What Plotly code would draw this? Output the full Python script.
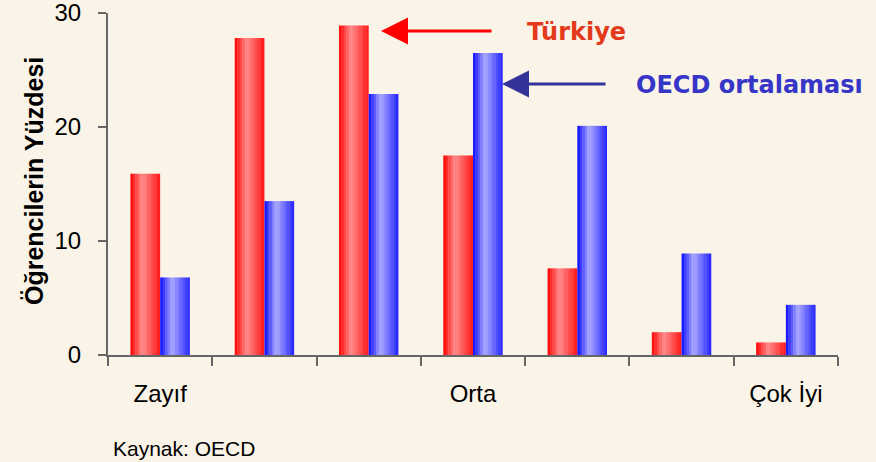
import plotly.graph_objects as go

# ---- data ----
groups = [0, 1, 2, 3, 4, 5, 6]
turkiye = [15.9, 27.8, 28.9, 17.5, 7.6, 2.0, 1.1]
oecd = [6.8, 13.5, 22.9, 26.5, 20.1, 8.9, 4.4]
label_positions = [0, 3, 6]
label_texts = ["Zayıf", "Orta", "Çok İyi"]
y_ticks = [0, 10, 20, 30]

BG = "#faf3e7"
FONT = "Liberation Sans, Arial, sans-serif"

fig = go.Figure()

BAR_W = 0.285
N = 12


def profile(t):
    # lightness profile across a bar (0 = saturated, 1 = lightest)
    if t < 0.4:
        return t / 0.4
    return 1 - 0.85 * (t - 0.4) / 0.6


def mix(base, light, f):
    return "rgb(%d,%d,%d)" % tuple(round(b + f * (l - b)) for b, l in zip(base, light))


series = [
    (turkiye, -BAR_W, (255, 0, 0), (255, 140, 140), "Türkiye"),
    (oecd, 0.0, (10, 10, 255), (170, 170, 255), "OECD ortalaması"),
]
for vals, off0, base, light, name in series:
    sw = BAR_W / N
    for k in range(N):
        t = (k + 0.5) / N
        fig.add_trace(go.Bar(
            x=groups, y=vals,
            width=sw * 1.15 if k < N - 1 else sw,
            offset=off0 + k * sw,
            marker=dict(color=mix(base, light, profile(t)), line=dict(width=0)),
            name=name, showlegend=False, hoverinfo="y",
        ))

fig.update_layout(
    template="none",
    barmode="overlay",
    width=876, height=462,
    paper_bgcolor=BG, plot_bgcolor=BG,
    margin=dict(l=108, r=38, t=13, b=107, autoexpand=False),
    font=dict(family=FONT, color="black"),
    showlegend=False,
    xaxis=dict(
        automargin=False,
        range=[-0.5, 6.5],
        tickvals=label_positions, ticktext=label_texts,
        ticks="", showgrid=False, zeroline=False,
        showline=True, linecolor="#666666", linewidth=2,
        tickfont=dict(size=24, family=FONT),
        ticklabelstandoff=16, ticklabeloverflow="allow",
        minor=dict(tick0=-0.5, dtick=1, ticks="outside", ticklen=9,
                   tickcolor="#666666", tickwidth=2, showgrid=False),
    ),
    yaxis=dict(
        automargin=False,
        range=[0, 30], tickvals=y_ticks,
        ticks="outside", ticklen=8, tickcolor="#666666", tickwidth=2,
        showgrid=False, zeroline=False,
        showline=True, linecolor="#666666", linewidth=2,
        tickfont=dict(size=24, family=FONT),
        ticklabelstandoff=12, ticklabeloverflow="allow",
    ),
)

# y-axis title
fig.add_annotation(x=(34 - 108) / 730, y=(355 - 181) / 342, xref="paper", yref="paper",
                   text="<b>Öğrencilerin Yüzdesi</b>", textangle=-90, showarrow=False,
                   xanchor="center", yanchor="middle",
                   font=dict(size=25, color="black", family=FONT))

# annotations: labels and arrows
fig.add_annotation(x=(525 - 108) / 730, y=(355 - 32) / 342, xref="paper", yref="paper",
                   text="<b>Türkiye</b>", showarrow=False, xanchor="left", yanchor="middle",
                   font=dict(size=24, color="#e33a1c", family="DejaVu Sans"))
fig.add_annotation(x=(634 - 108) / 730, y=(355 - 85) / 342, xref="paper", yref="paper",
                   text="<b>OECD ortalaması</b>", showarrow=False, xanchor="left", yanchor="middle",
                   font=dict(size=24, color="#3535c8", family="DejaVu Sans"))
fig.add_annotation(x=(381 - 108) / 730, y=(355 - 31) / 342, xref="paper", yref="paper",
                   text="", showarrow=True, ax=112, ay=0, arrowhead=2, arrowsize=1.8,
                   arrowwidth=3, arrowcolor="#ff0000")
fig.add_annotation(x=(502 - 108) / 730, y=(355 - 84) / 342, xref="paper", yref="paper",
                   text="", showarrow=True, ax=105, ay=0, arrowhead=2, arrowsize=1.8,
                   arrowwidth=3, arrowcolor="#333399")
fig.add_annotation(x=(111 - 108) / 730, y=-(448 - 355) / 342, xref="paper", yref="paper",
                   text="Kaynak: OECD", showarrow=False, xanchor="left", yanchor="middle",
                   font=dict(size=21, color="black", family=FONT))

fig.write_html("out.html", config={"displayModeBar": False},
               post_script="document.body.style.margin='0';document.body.style.overflow='hidden';")
